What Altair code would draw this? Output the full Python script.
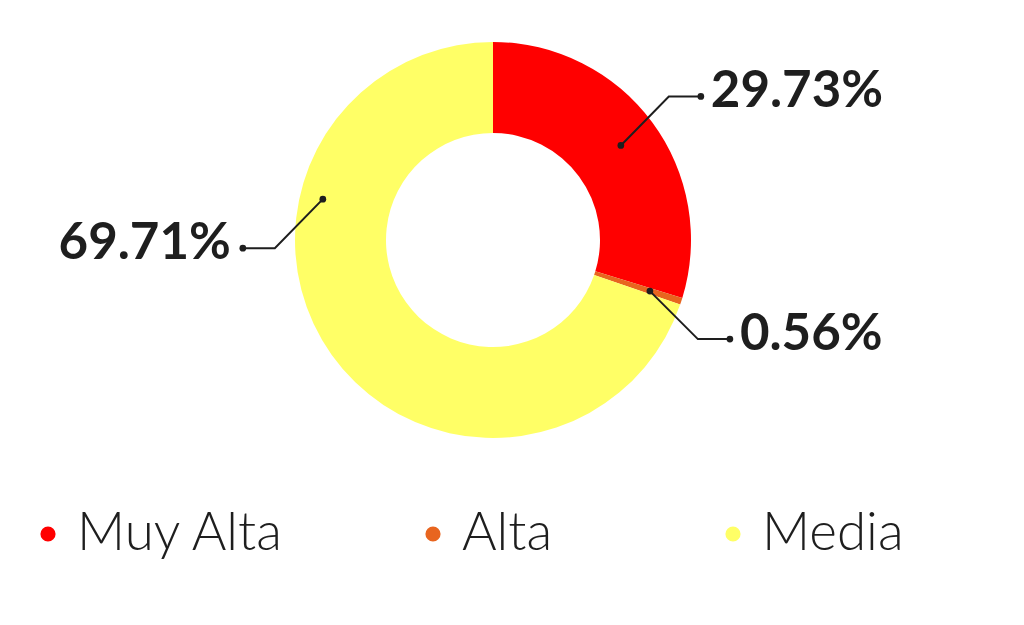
import altair as alt
import pandas as pd
import numpy as np

# ---- data ----
categories = ["Muy Alta", "Alta", "Media"]
values = [29.73, 0.56, 69.71]
labels = ["29.73%", "0.56%", "69.71%"]
colors = ["#FF0000", "#E8651F", "#FFFF66"]

# ---- layout (pixels, relative to donut centre) ----
W, H = 1008, 609
CX, CY = 485, 232           # donut centre inside the view
R_IN, R_OUT = 107, 198
anchor_angle = [None, None, 283.5]   # None -> slice mid-angle
anchor_radius = [159, 165, 175]
diag = [(48, 49), (48, -48), (-48, -49)]   # elbow offset (dx, dy up-positive)
horiz = [32, 32, -32]

df = pd.DataFrame({"cat": categories, "value": values, "idx": range(len(values))})

total = sum(values)
cum = np.cumsum([0] + values[:-1])
mids = [(c + v / 2) / total * 360 for c, v in zip(cum, values)]

line_rows, dot_rows, text_rows = [], [], []
for i, cat in enumerate(categories):
    a = np.deg2rad(anchor_angle[i] if anchor_angle[i] is not None else mids[i])
    r = anchor_radius[i]
    x0, y0 = r * np.sin(a), r * np.cos(a)
    x1, y1 = x0 + diag[i][0], y0 + diag[i][1]
    x2, y2 = x1 + horiz[i], y1
    for k, (xx, yy) in enumerate([(x0, y0), (x1, y1), (x2, y2)]):
        line_rows.append({"cat": cat, "k": k, "x": xx, "y": yy})
    dot_rows += [{"cat": cat, "x": x0, "y": y0}, {"cat": cat, "x": x2, "y": y2}]
    text_rows.append({"cat": cat, "label": labels[i], "x": x2 + (10 if horiz[i] > 0 else -12),
                      "y": y2, "align": "left" if horiz[i] > 0 else "right"})

lines = pd.DataFrame(line_rows)
dots = pd.DataFrame(dot_rows)
texts = pd.DataFrame(text_rows)

# legend positions (view pixels converted to centred coords)
leg_x = [40, 425, 725]
leg_y = 526
legend = pd.DataFrame({
    "cat": categories,
    "x": [lx - CX for lx in leg_x],
    "tx": [lx - CX + 29 for lx in leg_x],
    "y": [CY - leg_y] * 3,
})

xs = alt.Scale(domain=[-CX, W - CX])
ys = alt.Scale(domain=[CY - H, CY])
cscale = alt.Scale(domain=categories, range=colors)

arc = alt.Chart(df).mark_arc(innerRadius=R_IN, outerRadius=R_OUT).encode(
    theta=alt.Theta("value:Q", stack=True),
    color=alt.Color("cat:N", scale=cscale, legend=None),
    order=alt.Order("idx:Q"),
    x=alt.value(CX), y=alt.value(CY),
)

lead = alt.Chart(lines).mark_line(color="#1e1e1e", strokeWidth=2).encode(
    x=alt.X("x:Q", scale=xs, axis=None),
    y=alt.Y("y:Q", scale=ys, axis=None),
    detail="cat:N",
    order="k:Q",
)

ends = alt.Chart(dots).mark_point(filled=True, color="#1e1e1e", size=45, opacity=1).encode(
    x=alt.X("x:Q", scale=xs, axis=None),
    y=alt.Y("y:Q", scale=ys, axis=None),
)

def pct_text(align):
    return alt.Chart(texts[texts["align"] == align]).mark_text(
        align=align, baseline="alphabetic", dy=11, font="Lato", fontWeight="bold",
        fontSize=51, color="#1e1e1e",
    ).encode(
        x=alt.X("x:Q", scale=xs, axis=None),
        y=alt.Y("y:Q", scale=ys, axis=None),
        text="label:N",
    )

leg_dots = alt.Chart(legend).mark_point(filled=True, size=230, opacity=1, shape="circle").encode(
    x=alt.X("x:Q", scale=xs, axis=None),
    y=alt.Y("y:Q", scale=ys, axis=None),
    color=alt.Color("cat:N", scale=cscale, legend=None),
)

leg_text = alt.Chart(legend).mark_text(
    align="left", baseline="middle", font="Lato", fontWeight=300, fontSize=53, color="#1e1e1e",
).encode(
    x=alt.X("tx:Q", scale=xs, axis=None),
    y=alt.Y("y:Q", scale=ys, axis=None),
    text="cat:N",
)

chart = alt.layer(arc, lead, ends, pct_text("left"), pct_text("right"), leg_dots, leg_text).properties(
    width=W, height=H, padding=0, autosize=alt.AutoSizeParams(type="none"),
    background="white",
).configure_view(stroke=None)

chart.save("out.html", embed_options={"renderer": "svg", "actions": False})
